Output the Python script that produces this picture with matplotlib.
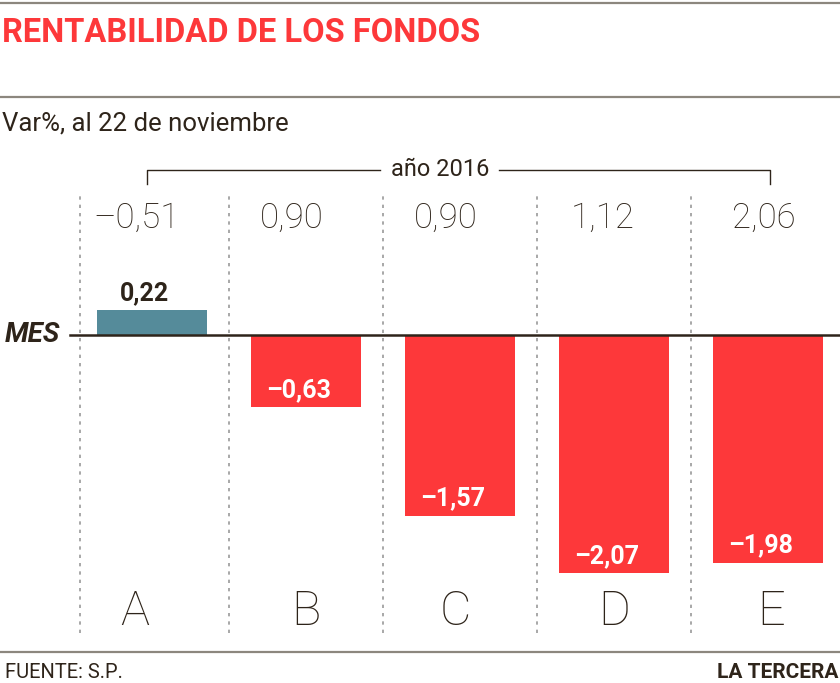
import matplotlib
matplotlib.use("Agg")
import matplotlib.pyplot as plt
from matplotlib.lines import Line2D

# data
fondos = ['A', 'B', 'C', 'D', 'E']
mes = [0.22, -0.63, -1.57, -2.07, -1.98]
anio = [-0.51, 0.90, 0.90, 1.12, 2.06]

RED = '#fd383a'
TEAL = '#558b9a'
DARK = '#2e241a'
RULE = '#8c877e'
FONT = 'Roboto'

def fmt(v):
    return f"{v:.2f}".replace('.', ',').replace('-', '\u2013')

W, H = 840, 683
fig = plt.figure(figsize=(W / 100, H / 100), dpi=100)

def fx(px):
    return px / W

def fy(py):
    return 1 - py / H

# horizontal rules
for yy in (3, 97, 652):
    fig.add_artist(Line2D([0, 1], [fy(yy), fy(yy)], color=RULE, lw=1.6))

fig.text(fx(2), fy(33), 'RENTABILIDAD DE LOS FONDOS', color=RED, fontsize=23.5,
         fontweight='bold', family=FONT, va='center', ha='left')
fig.text(fx(2), fy(123), 'Var%, al 22 de noviembre', color=DARK, fontsize=18.5,
         fontweight='normal', family=FONT, va='center', ha='left')
fig.text(fx(5), fy(672), 'FUENTE: S.P.', color=DARK, fontsize=14.5,
         fontweight='normal', family=FONT, va='center', ha='left')
fig.text(fx(838), fy(672), 'LA TERCERA', color=DARK, fontsize=15,
         fontweight='bold', family=FONT, va='center', ha='right')
fig.text(fx(5), fy(335), 'MES', color=DARK, fontsize=20, fontweight='bold',
         fontstyle='italic', family=FONT, va='center', ha='left')

# chart axes: zero at y=335px, 115 px per unit, 154 px per column
top_px, bot_px = 140, 640
ax = fig.add_axes([0, fy(bot_px), 1, (bot_px - top_px) / H])
ax.set_ylim(-(bot_px - 335) / 115, (335 - top_px) / 115)
ax.set_xlim(-152 / 154, (840 - 152) / 154)
ax.axis('off')

x = list(range(len(fondos)))
colors = [TEAL if v > 0 else RED for v in mes]
ax.bar(x, mes, width=110 / 154, color=colors, zorder=2)

# separators
y_sep_top = (335 - 193) / 115
y_sep_bot = -(633 - 335) / 115
for sx in [-0.47, 0.5, 1.5, 2.5, 3.5]:
    ax.plot([sx, sx], [y_sep_bot, y_sep_top], color='#9a9a9a', lw=1.2,
            ls=(0, (2, 3)), zorder=1)

# zero line
ax.plot([(70 - 152) / 154, 4.47], [0, 0], color=DARK, lw=1.8, zorder=3)

# bracket "año 2016"
yb = (335 - 170) / 115
yt = (335 - 184) / 115
ax.plot([-0.032, -0.032, 1.48], [yt, yb, yb], color=DARK, lw=1)
ax.plot([2.25, 4.013, 4.013], [yb, yb, yt], color=DARK, lw=1)
ax.text(1.87, yb, 'año 2016', color=DARK, fontsize=17, fontweight='normal',
        family=FONT, ha='center', va='center')

top_off = [-0.1, -0.09, -0.09, -0.07, -0.03]
let_off = [-0.11, 0.0, -0.03, 0.0, 0.02]
for i, (m, a, f) in enumerate(zip(mes, anio, fondos)):
    ax.text(i + top_off[i], (335 - 218) / 115, fmt(a), color=DARK, fontsize=25,
            fontweight='light', family=FONT, ha='center', va='center')
    ax.text(i + let_off[i], -(612 - 335) / 115, f, color=DARK, fontsize=35,
            fontweight='light', family=FONT, ha='center', va='center')
    if m > 0:
        ax.text(i - 0.05, m + 0.04, fmt(m), color=DARK, fontsize=18,
                fontweight='bold', family=FONT, ha='center', va='bottom')
    else:
        ax.text(i - 0.05, m + 0.15, fmt(m), color='white', fontsize=18,
                fontweight='bold', family=FONT, ha='center', va='center')

fig.savefig('out.png', dpi=100)
